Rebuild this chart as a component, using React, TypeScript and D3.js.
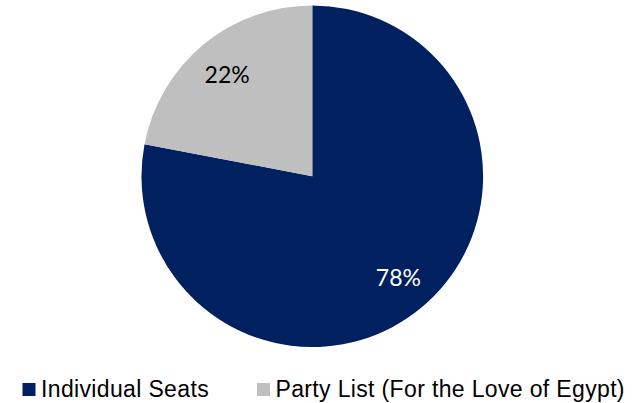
import React from "react";
import * as d3 from "d3";

const categories = ["Individual Seats", "Party List (For the Love of Egypt)"];
const values = [78, 22];
const labels = ["78%", "22%"];
const colors = ["#00205F", "#BFBFBF"];
const labelColors = ["#FFFFFF", "#000000"];

export default function App() {
  const W = 639, H = 403;
  const cx = 312.3, cy = 176.2, r = 170.8;
  const pie = d3.pie<number>().sort(null).value((d) => d)(values);
  const arc = d3.arc<d3.PieArcDatum<number>>().innerRadius(0).outerRadius(r);
  const legendX = [22.5, 257];
  const labelR = 132;
  return (
    <svg width={W} height={H} style={{ position: "absolute", left: 0, top: 0, background: "#fff" }}>
      <g transform={`translate(${cx},${cy})`}>
        {pie.map((p, i) => (
          <path key={i} d={arc(p) || ""} fill={colors[i]} />
        ))}
        {pie.map((p, i) => {
          const a = (p.startAngle + p.endAngle) / 2;
          const x = Math.sin(a) * labelR;
          const y = -Math.cos(a) * labelR;
          return (
            <text key={i} x={x + (i === 0 ? 2 : -1)} y={y} dy="0.35em" textAnchor="middle" fill={labelColors[i]}
              style={{ fontFamily: "Lato, 'Open Sans', sans-serif", fontSize: 23 }}>
              {labels[i]}
            </text>
          );
        })}
      </g>
      {categories.map((c, i) => (
        <g key={i}>
          <rect x={legendX[i]} y={383} width={13} height={13} fill={colors[i]} />
          <text x={legendX[i] + 18.5} y={396.5} fill="#000"
            style={{ fontFamily: "'Liberation Sans', Arial, sans-serif", fontSize: 23, letterSpacing: 0.35 }}>
            {c}
          </text>
        </g>
      ))}
    </svg>
  );
}
